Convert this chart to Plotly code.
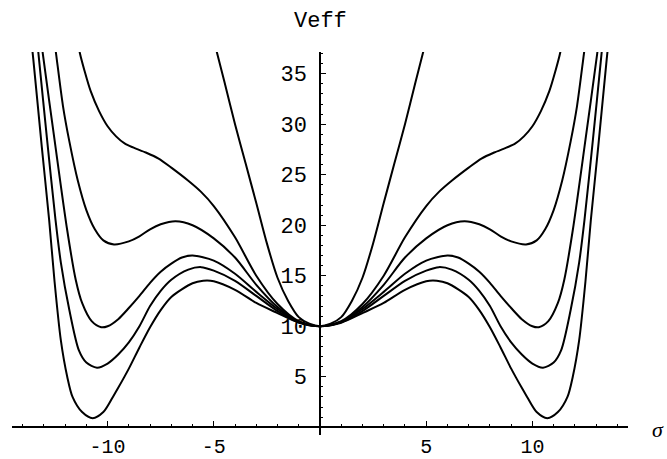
import plotly.graph_objects as go

# Half-curves (sigma >= 0); the plot is symmetric in sigma.
sigma_A = [0, 1, 2, 3, 4, 5, 5.5, 6, 7, 7.5, 8, 8.5, 9, 9.5, 9.75, 10.2, 10.7, 11.2, 11.65, 11.9, 12.2, 12.5, 12.75, 13.1, 13.5, 13.65]
V_A     = [10, 10.35, 11.3, 12.3, 13.6, 14.45, 14.5, 14.25, 12.9, 11.6, 9.9, 7.9, 5.8, 3.9, 3.0, 1.5, 0.9, 1.5, 3.0, 5.0, 8.6, 14.5, 20.5, 27.8, 36.5, 39.5]

sigma_B = [0, 1, 2, 3, 4, 5, 5.6, 6.2, 7, 7.5, 8, 8.5, 9, 9.5, 10, 10.5, 11.0, 11.35, 11.8, 12.2, 12.45, 12.85, 13.25, 13.35]
V_B     = [10, 10.4, 11.5, 13.0, 14.5, 15.5, 15.85, 15.6, 14.6, 13.5, 12.0, 10.0, 8.4, 7.2, 6.3, 5.9, 6.4, 7.6, 11.6, 16.3, 20.5, 28.5, 36.9, 39.0]

sigma_C = [0, 1, 2, 3, 4, 5, 6, 6.5, 7, 7.5, 8, 8.5, 9, 9.5, 10, 10.3, 10.75, 11.2, 11.5, 11.9, 12.5, 13.05, 13.15]
V_C     = [10, 10.4, 11.7, 13.4, 15.2, 16.5, 17.0, 16.8, 16.2, 15.4, 14.3, 13.0, 11.8, 10.7, 10.0, 9.9, 10.5, 12.3, 14.6, 19.5, 28.5, 37.0, 38.7]

sigma_D = [0, 1, 2, 3, 4, 5, 6, 6.8, 7.5, 8, 8.5, 9, 9.7, 10.2, 10.6, 11.0, 11.4, 11.8, 12.1, 12.42, 12.55]
V_D     = [10, 10.45, 11.9, 14.1, 16.8, 18.7, 20.0, 20.4, 20.1, 19.6, 18.9, 18.4, 18.1, 18.5, 19.6, 21.5, 24.4, 28.3, 31.8, 36.9, 39.0]

sigma_E = [0, 1, 2, 3, 4, 5, 5.6, 6.2, 7, 7.6, 8.2, 8.8, 9.2, 9.6, 10.0, 10.4, 10.8, 11.1, 11.3, 11.4]
V_E     = [10, 10.5, 12.2, 15.0, 18.8, 21.9, 23.3, 24.4, 25.7, 26.6, 27.2, 27.7, 28.1, 28.8, 29.8, 31.3, 33.3, 35.4, 37.0, 38.2]

sigma_F = [0, 0.5, 1, 1.5, 2, 2.5, 3, 3.5, 4, 4.5, 4.84, 5.0]
V_F     = [10, 10.25, 10.9, 12.5, 14.8, 18.2, 22.2, 26.1, 30.0, 34.2, 37.0, 38.3]

curves = [(sigma_A, V_A), (sigma_B, V_B), (sigma_C, V_C),
          (sigma_D, V_D), (sigma_E, V_E), (sigma_F, V_F)]

x_ticks = [-10, -5, 5, 10]
x_tick_text = ["-10", "-5", "5", "10"]
y_ticks = [5, 10, 15, 20, 25, 30, 35]
y_tick_text = ["5", "10", "15", "20", "25", "30", "35"]

x_range = [-14.5, 14.5]
y_range = [-0.77, 37.15]
x_axis_pos = (0 - y_range[0]) / (y_range[1] - y_range[0])

fig = go.Figure()
for s, v in curves:
    xs = [-a for a in reversed(s)] + s[1:]
    ys = list(reversed(v)) + v[1:]
    fig.add_trace(go.Scatter(x=xs, y=ys, mode="lines",
                             line=dict(color="black", width=2, shape="spline", smoothing=0.8),
                             showlegend=False, hoverinfo="skip"))

mono = "Liberation Mono, Courier New, monospace"
y_tick_font = dict(family=mono, size=22, color="black")
x_tick_font = dict(family=mono, size=20, color="black")

fig.update_layout(
    width=667, height=459,
    margin=dict(l=12, r=39, t=52, b=24, autoexpand=False),
    paper_bgcolor="white", plot_bgcolor="white",
    xaxis=dict(range=x_range, anchor="free", position=x_axis_pos, automargin=False,
               showgrid=False, zeroline=False, showline=True, linecolor="black", linewidth=1.5,
               tickvals=x_ticks, ticktext=x_tick_text, ticks="inside", ticklen=5,
               tickwidth=1, tickcolor="black", tickfont=x_tick_font, ticklabelstandoff=1,
               minor=dict(dtick=1, tick0=0, ticks="inside", ticklen=2.5, tickcolor="black", tickwidth=1)),
    yaxis=dict(range=y_range, anchor="free", position=0.5, automargin=False,
               showgrid=False, zeroline=False, showline=True, linecolor="black", linewidth=1.5,
               tickvals=y_ticks, ticktext=y_tick_text, ticks="inside", ticklen=5,
               tickwidth=1, tickcolor="black", tickfont=y_tick_font, ticklabelstandoff=8,
               minor=dict(dtick=1, tick0=0, ticks="inside", ticklen=2.5, tickcolor="black", tickwidth=1)),
    annotations=[
        dict(text="Veff", x=0, y=1, xref="x", yref="paper", yshift=31,
             showarrow=False, xanchor="center", yanchor="middle",
             font=dict(family=mono, size=22, color="black")),
        dict(text="<i>σ</i>", x=1, y=x_axis_pos,
             xref="paper", yref="paper", xshift=30, yshift=-2,
             showarrow=False, xanchor="center", yanchor="middle",
             font=dict(family="Liberation Serif, Times New Roman, serif", size=22, color="black")),
    ],
)

# remove the default 8px page margin so the 667x459 figure fills the window exactly
fig.write_html("out.html", config={"displayModeBar": False},
               post_script="document.body.style.margin='0';document.body.style.overflow='hidden';")
